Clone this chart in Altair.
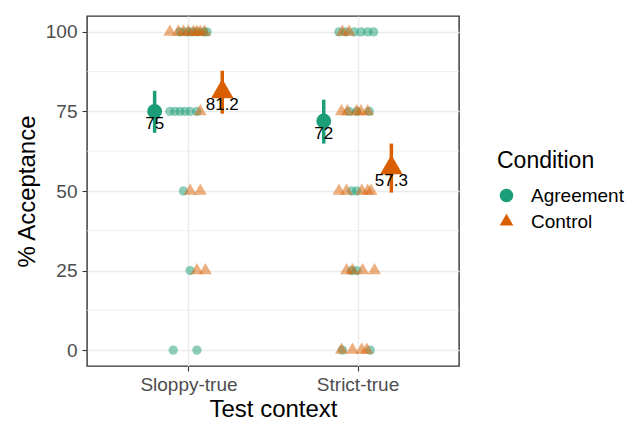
import altair as alt
import pandas as pd

contexts = ["Sloppy-true", "Strict-true"]
conditions = ["Agreement", "Control"]
colors = ["#1B9E77", "#D95F02"]

# individual responses (value, horizontal jitter in category units)
sloppy_agreement_values = [100, 100, 100, 100, 100, 100, 75, 75, 75, 75, 75, 75, 50, 25, 0, 0]
sloppy_agreement_jitter = [-0.05, -0.01, 0.02, 0.05, 0.09, 0.11, -0.11, -0.08, -0.05, -0.02, 0.01, 0.05, -0.03, 0.01, -0.09, 0.05]
sloppy_control_values = [100, 100, 100, 100, 100, 100, 100, 100, 75, 50, 50, 25, 25]
sloppy_control_jitter = [-0.11, -0.06, -0.03, 0.0, 0.03, 0.05, 0.07, 0.095, 0.07, 0.01, 0.07, 0.05, 0.10]
strict_agreement_values = [100, 100, 100, 100, 100, 100, 75, 75, 75, 50, 50, 25, 25, 0, 0]
strict_agreement_jitter = [-0.11, -0.07, -0.02, 0.02, 0.06, 0.095, -0.05, -0.005, 0.07, -0.035, -0.005, -0.035, -0.005, -0.09, 0.075]
strict_control_values = [100, 100, 75, 75, 75, 75, 75, 50, 50, 50, 50, 50, 25, 25, 25, 25, 0, 0, 0, 0]
strict_control_jitter = [-0.09, -0.05, -0.095, -0.06, -0.005, 0.02, 0.06, -0.11, -0.065, 0.025, 0.06, 0.08, -0.065, -0.03, 0.03, 0.10, -0.095, -0.03, 0.025, 0.055]

# condition means with 95% CI
mean_context = ["Sloppy-true", "Sloppy-true", "Strict-true", "Strict-true"]
mean_condition = ["Agreement", "Control", "Agreement", "Control"]
mean_values = [75, 81.2, 72, 57.3]
ci_low = [68.3, 74.3, 64.9, 49.5]
ci_high = [81.5, 87.8, 78.7, 64.9]

major_ticks = [0, 25, 50, 75, 100]
minor_ticks = [12.5, 37.5, 62.5, 87.5]

groups = [
    ("Sloppy-true", "Agreement", sloppy_agreement_values, sloppy_agreement_jitter),
    ("Strict-true", "Agreement", strict_agreement_values, strict_agreement_jitter),
    ("Sloppy-true", "Control", sloppy_control_values, sloppy_control_jitter),
    ("Strict-true", "Control", strict_control_values, strict_control_jitter),
]
rows = []
for ctx, cond, vals, jit in groups:
    for v, j in zip(vals, jit):
        rows.append({"context": ctx, "condition": cond, "value": v, "jitter": j})
points_df = pd.DataFrame(rows)

means_df = pd.DataFrame({
    "context": mean_context,
    "condition": mean_condition,
    "value": mean_values,
    "lo": ci_low,
    "hi": ci_high,
    "label": [f"{v:g}" for v in mean_values],
})
minor_df = pd.DataFrame({"y": minor_ticks})

ctx_expr = "datum.context == '%s' ? 1 : 2" % contexts[0]
dodge_expr = "(%s) + (datum.condition == 'Agreement' ? -0.2 : 0.2)" % ctx_expr
label_expr = "datum.value == 1 ? '%s' : '%s'" % (contexts[0], contexts[1])

tri = "M0,-1.155L1,0.577L-1,0.577Z"

xscale = alt.Scale(domain=[0.4, 2.6], nice=False, zero=False)
yscale = alt.Scale(domain=[-5, 105], nice=False, zero=False)

xax = alt.Axis(values=[1, 2], labelExpr=label_expr, title="Test context", grid=True)
yax = alt.Axis(values=major_ticks, title="% Acceptance", grid=True)

color_scale = alt.Scale(domain=conditions, range=colors)
shape_scale = alt.Scale(domain=conditions, range=["circle", tri])

minor = alt.Chart(minor_df).mark_rule(color="#EBEBEB", strokeWidth=0.8).encode(
    y=alt.Y("y:Q", scale=yscale, axis=yax)
)

pts = alt.Chart(points_df).transform_calculate(
    xpos="(%s) + datum.jitter" % ctx_expr
).mark_point(filled=True, opacity=0.5, strokeWidth=0).encode(
    x=alt.X("xpos:Q", scale=xscale, axis=xax),
    y=alt.Y("value:Q", scale=yscale, axis=yax),
    color=alt.Color("condition:N", scale=color_scale, title="Condition"),
    shape=alt.Shape("condition:N", scale=shape_scale, title="Condition"),
    size=alt.Size("condition:O", scale=alt.Scale(domain=conditions, range=[87, 169]), legend=None),
)

bars = alt.Chart(means_df).transform_calculate(
    xpos=dodge_expr
).mark_rule(strokeWidth=3.5).encode(
    x=alt.X("xpos:Q", scale=xscale, axis=xax),
    y=alt.Y("lo:Q", scale=yscale, axis=yax),
    y2="hi:Q",
    color=alt.Color("condition:N", scale=color_scale, title="Condition"),
)

means = alt.Chart(means_df).transform_calculate(
    xpos=dodge_expr
).mark_point(filled=True, opacity=1, strokeWidth=0).encode(
    x=alt.X("xpos:Q", scale=xscale, axis=xax),
    y=alt.Y("value:Q", scale=yscale, axis=yax),
    color=alt.Color("condition:N", scale=color_scale, title="Condition"),
    shape=alt.Shape("condition:N", scale=shape_scale, title="Condition"),
    size=alt.Size("condition:O", scale=alt.Scale(domain=conditions, range=[219, 506]), legend=None),
)

labels = alt.Chart(means_df).transform_calculate(
    xpos=dodge_expr
).mark_text(dy=13, fontSize=17, color="black", font="Liberation Sans").encode(
    x=alt.X("xpos:Q", scale=xscale, axis=xax),
    y=alt.Y("value:Q", scale=yscale, axis=yax),
    text="label:N",
)

chart = alt.layer(minor, pts, bars, means, labels).resolve_scale(
    size="independent"
).properties(
    width=372,
    height=350,
    autosize=alt.AutoSizeParams(type="none"),
    padding={"left": 79, "top": 8, "right": 176, "bottom": 56},
).configure(
    font="Liberation Sans",
).configure_view(
    stroke="#333333", strokeWidth=1.4
).configure_axis(
    gridColor="#EBEBEB", gridWidth=1.5, domain=False,
    tickColor="#333333", tickSize=5, tickWidth=1.1,
    labelColor="#4D4D4D", labelFontSize=19, labelPadding=4,
    titleColor="black", titleFontSize=24, titleFontWeight="normal",
).configure_axisY(
    titlePadding=6, labelPadding=5
).configure_axisX(
    titlePadding=3
).configure_legend(
    orient="none", legendX=410, legendY=134,
    titleFontSize=23, titleFontWeight="normal", titleColor="black",
    labelFontSize=19, labelColor="black",
    symbolSize=185, symbolOpacity=1, symbolStrokeWidth=0,
    labelOffset=15, rowPadding=6, titlePadding=13,
)

chart.save("out.html", embed_options={"renderer": "svg", "actions": False})
